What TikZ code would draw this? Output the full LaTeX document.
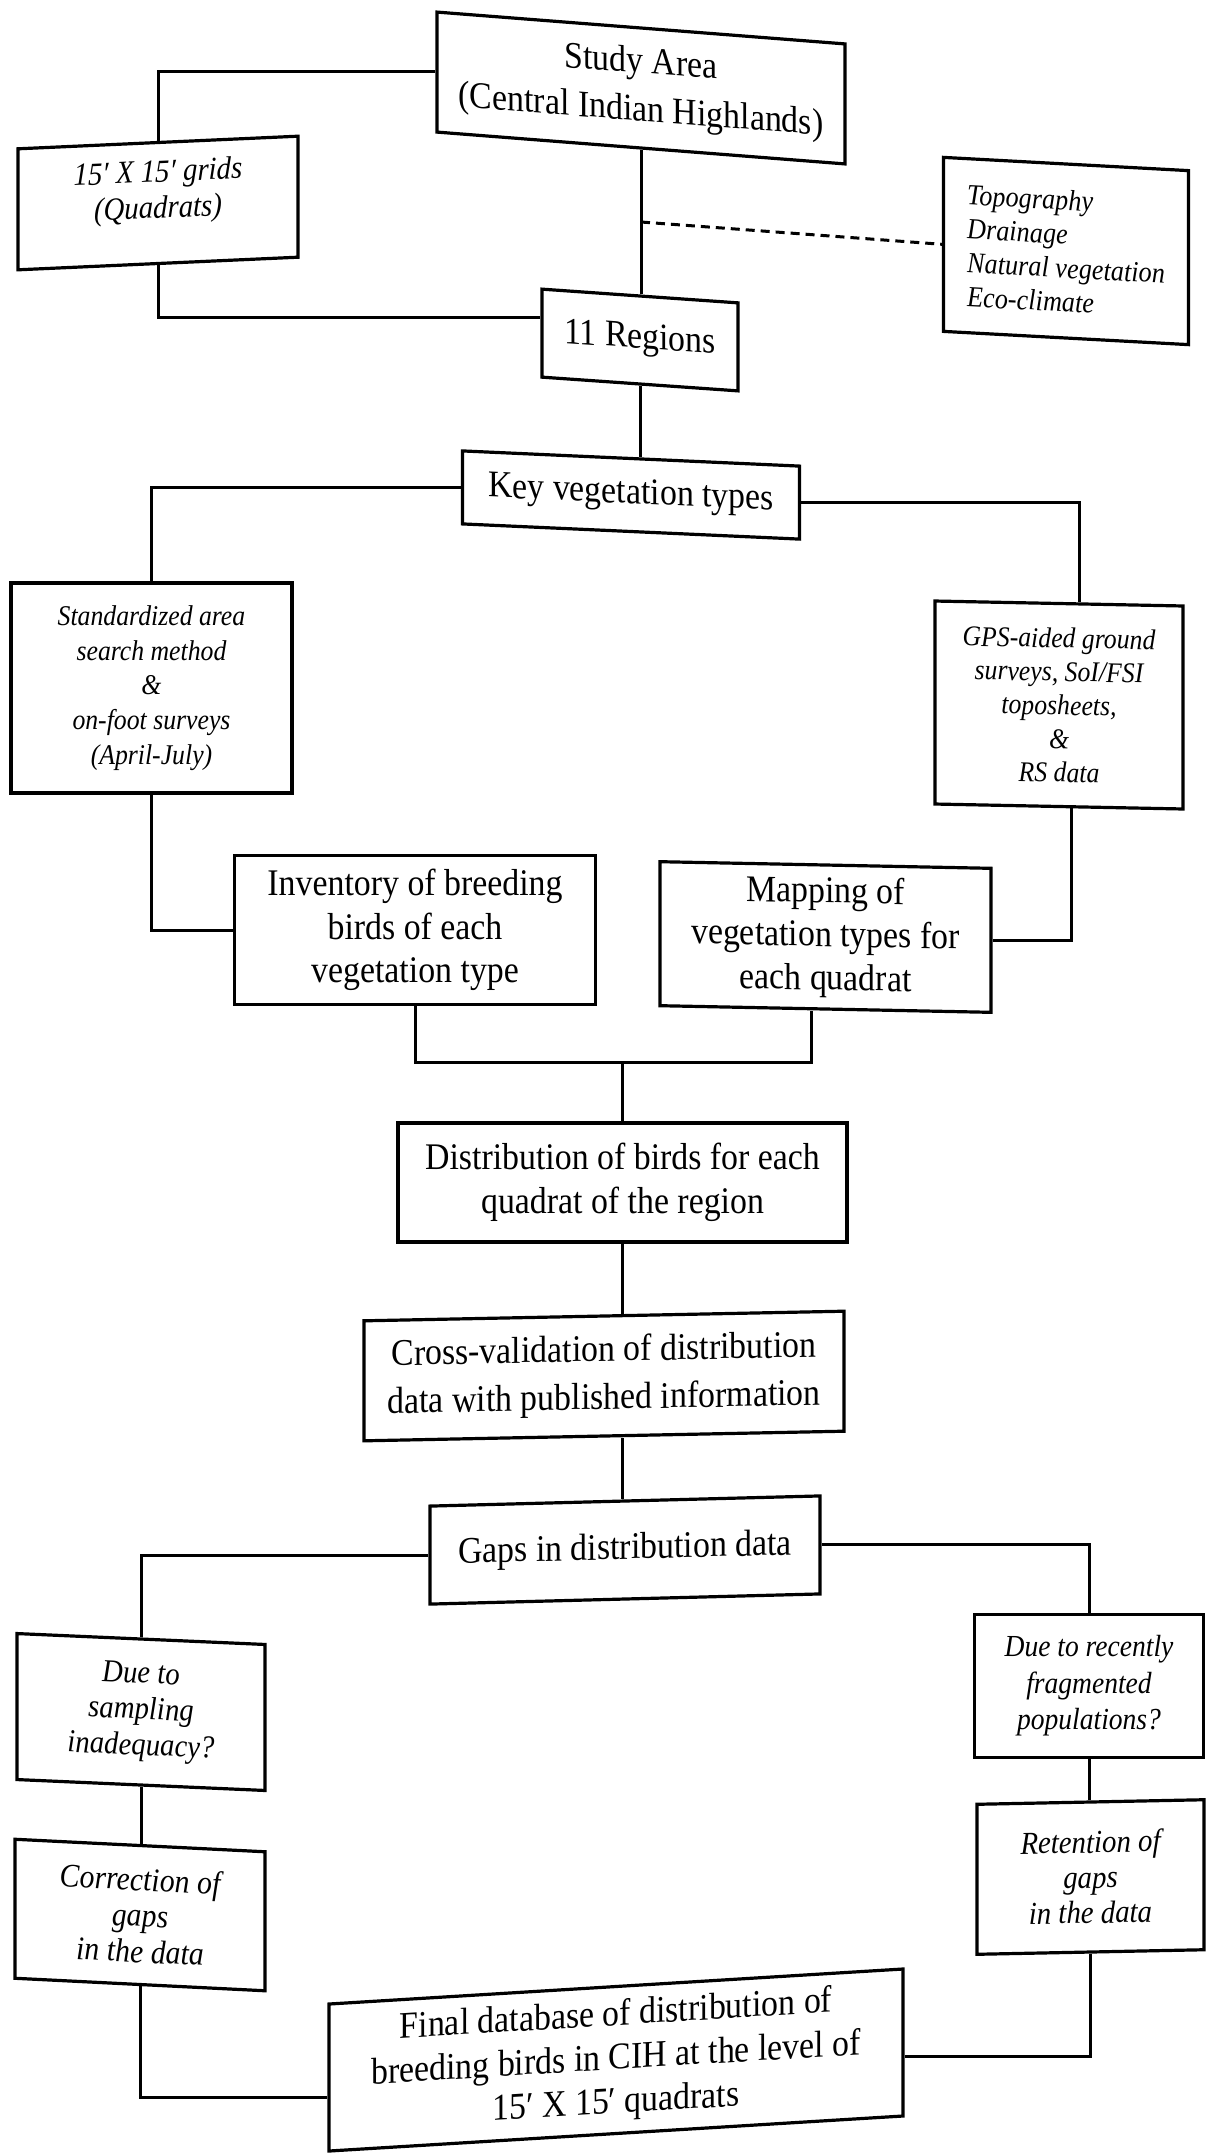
\documentclass[tikz,border=0pt]{standalone}
\usepackage{fontspec}
\setmainfont[FakeStretch=0.9]{Liberation Serif}
\usetikzlibrary{calc}

\begin{document}
\begin{tikzpicture}[x=0.5pt, y=-0.5pt,
  box/.style={draw, line width=1.6pt, inner sep=0pt, align=center, fill=white},
  sz/.style n args={2}{minimum width=#1*0.5pt, minimum height=#2*0.5pt},
  maintxt/.style={box, font=\fontsize{18.8}{21.8}\selectfont},
  sidetxt/.style={box, font=\fontsize{14.3}{17.4}\selectfont\itshape},
  lowtxt/.style={box, font=\fontsize{16}{18}\selectfont\itshape},
  link/.style={line width=1.5pt},
  hint/.style={line width=1.5pt, dash pattern=on 4.5pt off 3pt}]

\useasboundingbox (0,0) rectangle (1208,2153);

% ---------- boxes ----------
\node[maintxt, sz={408}{120}, yslant=-0.078, font=\fontsize{18.8}{24}\selectfont]
  (sa) at (641,88) {Study Area\\(Central Indian Highlands)};
\node[lowtxt, sz={280}{121}, yslant=0.045, text depth=14pt]
  (grid) at (158,203) {15′ X 15′ grids\\(Quadrats)};
\node[sidetxt, sz={245}{174}, yslant=-0.054, align=left, font=\fontsize{14.6}{17}\selectfont\itshape]
  (topo) at (1066,251) {Topography\\Drainage\\Natural vegetation\\Eco-climate};
\node[maintxt, sz={196}{88}, yslant=-0.07]
  (reg) at (640,340) {11 Regions};
\node[maintxt, sz={337}{73}, yslant=-0.045]
  (kv) at (631,495) {Key vegetation types};
\node[sidetxt, sz={281}{210}]
  (std) at (151.5,688) {Standardized area\\search method\\\&\\on-foot surveys\\(April-July)};
\node[sidetxt, sz={248}{203}, yslant=-0.02, font=\fontsize{14.3}{16.8}\selectfont\itshape]
  (gps) at (1059,705) {GPS-aided ground\\surveys, SoI/FSI\\toposheets,\\\&\\RS data};
\node[maintxt, sz={361}{149}]
  (inv) at (415,930) {Inventory of breeding\\birds of each\\vegetation type};
\node[maintxt, sz={331}{144}, yslant=-0.02]
  (map) at (825.5,937) {Mapping of\\vegetation types for\\each quadrat};
\node[maintxt, sz={449}{119}]
  (dist) at (622.5,1182.5) {Distribution of birds for each\\quadrat of the region};
\node[maintxt, sz={480}{120}, yslant=0.02, font=\fontsize{18.8}{24}\selectfont]
  (cv) at (604,1376) {Cross-validation of distribution\\data with published information};
\node[maintxt, sz={390}{98}, yslant=0.026]
  (gaps) at (625,1550) {Gaps in distribution data};
\node[lowtxt, sz={248}{146}, yslant=-0.044]
  (samp) at (141,1712) {Due to\\sampling\\inadequacy?};
\node[lowtxt, sz={229}{143}, font=\fontsize{15.3}{18.2}\selectfont\itshape]
  (rec) at (1089,1686) {Due to recently\\fragmented\\populations?};
\node[lowtxt, sz={250}{139}, yslant=-0.05, font=\fontsize{16.6}{18}\selectfont\itshape]
  (corr) at (140,1915) {Correction of\\gaps\\in the data};
\node[lowtxt, sz={227}{150}, yslant=0.02, font=\fontsize{16}{17.6}\selectfont\itshape]
  (ret) at (1090.5,1877) {Retention of\\gaps\\in the data};
\node[maintxt, sz={574}{147}, yslant=0.061, font=\fontsize{18.8}{22}\selectfont]
  (fin) at (616,2060) {Final database of distribution of\\breeding birds in CIH at the level of\\15′ X 15′ quadrats};

% ---------- connectors ----------
\draw[link] (sa.west) -| (grid.north);
\draw[link] (grid.south) |- ([yshift=8pt]reg.west);
\draw[link] (sa.south) -- (sa.south |- reg.north);
\coordinate (dj) at ($(sa.south)!0.5!(sa.south |- reg.north)$);
\draw[hint] (dj) -- (topo.west);
\draw[link] (reg.south) -- (reg.south |- kv.north);
\draw[link] (kv.west) -| (std.north);
\draw[link] (kv.east) -| ([xshift=10pt]gps.north);
\draw[link] (std.south) |- (inv.west);
\draw[link] ([xshift=6pt]gps.south) |- (map.east);
\coordinate (j1) at ([yshift=29.5pt]dist.north);
\draw[link] (inv.south) |- (j1) -| ([xshift=-7pt]map.south);
\draw[link] (j1) -- (dist.north);
\draw[link] (dist.south) -- (dist.south |- cv.north);
\draw[link] (cv.south -| dist.south) -- (gaps.north -| dist.south);
\draw[link] (gaps.west) -| (samp.north);
\draw[link] (gaps.east) -| (rec.north);
\draw[link] (samp.south) -- (samp.south |- corr.north);
\draw[link] (rec.south) -- (rec.south |- ret.north);
\draw[link] (corr.south) |- ([yshift=-10pt]fin.west);
\draw[link] (ret.south) |- ([yshift=-7pt]fin.east);
\end{tikzpicture}
\end{document}
